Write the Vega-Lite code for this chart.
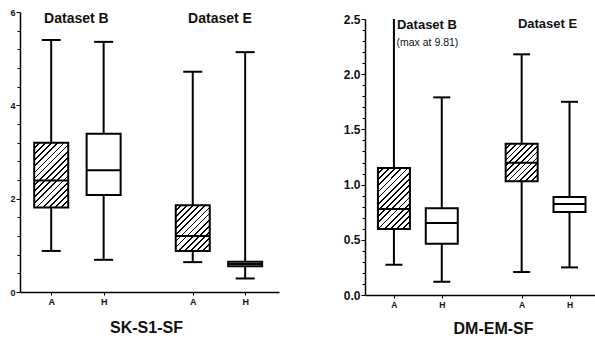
{
  "$schema": "https://vega.github.io/schema/vega-lite/v6.json",
  "padding": {"left": 9, "top": 8, "right": 0, "bottom": 0},
  "spacing": 64,
  "config": {
    "view": {"stroke": null},
    "font": "Liberation Sans",
    "tick": {"opacity": 1},
    "axis": {"grid": false, "domainColor": "black", "domainWidth": 1.5, "tickColor": "black", "tickWidth": 1, "labelFont": "Liberation Sans", "labelFontWeight": "bold", "labelColor": "#111", "titleFont": "Liberation Sans", "titleFontWeight": "bold", "titleColor": "#111", "labelPadding": 1, "labelOverlap": false, "tickCount": 100}
  },
  "datasets": {
    "left": [
      {"pos": 0.5, "grp": "A", "set": "B", "min": 0.88, "q1": 1.81, "med": 2.39, "q3": 3.2, "max": 5.4},
      {"pos": 1.5, "grp": "H", "set": "B", "min": 0.69, "q1": 2.08, "med": 2.61, "q3": 3.39, "max": 5.36},
      {"pos": 3.2, "grp": "A", "set": "E", "min": 0.64, "q1": 0.88, "med": 1.2, "q3": 1.86, "max": 4.72},
      {"pos": 4.2, "grp": "H", "set": "E", "min": 0.29, "q1": 0.55, "med": 0.6, "q3": 0.65, "max": 5.14}
    ],
    "right": [
      {"pos": 0.5, "grp": "A", "set": "B", "min": 0.274, "q1": 0.598, "med": 0.779, "q3": 1.15, "max": 9.81},
      {"pos": 1.5, "grp": "H", "set": "B", "min": 0.12, "q1": 0.465, "med": 0.652, "q3": 0.785, "max": 1.79},
      {"pos": 3.17, "grp": "A", "set": "E", "min": 0.208, "q1": 1.03, "med": 1.198, "q3": 1.37, "max": 2.18},
      {"pos": 4.17, "grp": "H", "set": "E", "min": 0.25, "q1": 0.752, "med": 0.824, "q3": 0.888, "max": 1.75}
    ],
    "leftText": [
      {"pos": 0.98, "y": 5.84, "label": "Dataset B"},
      {"pos": 3.72, "y": 5.84, "label": "Dataset E"}
    ],
    "rightText": [
      {"pos": 1.19, "y": 2.446, "label": "Dataset B"},
      {"pos": 3.71, "y": 2.455, "label": "Dataset E"}
    ],
    "rightNote": [
      {"pos": 1.2, "y": 2.287, "label": "(max at 9.81)"}
    ],
    "blank": [{"k": 1}]
  },
  "hconcat": [
    {
      "width": 259,
      "height": 280,
      "data": {"name": "left"},
      "encoding": {
        "x": {"field": "pos", "type": "quantitative", "scale": {"domain": [0, 4.75], "nice": false, "zero": false},
          "axis": {"values": [0.5, 1.5, 3.2, 4.2], "labelExpr": "datum.value < 1 || (datum.value > 3 && datum.value < 4) ? 'A' : 'H'", "labelFontSize": 9, "tickSize": 3, "labelPadding": 2, "title": "SK-S1-SF", "titleFontSize": 16, "titlePadding": 13, "titleX": 126, "titleAlign": "center"}}
      },
      "layer": [
        {"mark": {"type": "rule", "color": "black", "strokeWidth": 2},
          "encoding": {"y": {"field": "min", "type": "quantitative", "scale": {"domain": [0, 6], "nice": false},
            "axis": {"values": [0, 0.4, 0.8, 1.2, 1.6, 2, 2.4, 2.8, 3.2, 3.6, 4, 4.4, 4.8, 5.2, 5.6, 6], "format": ".0f", "labelExpr": "datum.value % 2 === 0 ? datum.label : ''", "labelFontSize": 9, "tickSize": {"condition": {"test": "datum.value % 2 === 0", "value": 4}, "value": 3}, "title": null}},
            "y2": {"field": "max"}}},
        {"mark": {"type": "tick", "orient": "horizontal", "color": "black", "opacity": 1, "size": 19, "thickness": 2},
          "encoding": {"y": {"field": "min", "type": "quantitative"}}},
        {"mark": {"type": "tick", "orient": "horizontal", "color": "black", "opacity": 1, "size": 19, "thickness": 2},
          "encoding": {"y": {"field": "max", "type": "quantitative"}}},
        {"transform": [{"filter": "datum.grp === 'H'"}],
          "mark": {"type": "bar", "orient": "vertical", "size": 34, "fill": "white", "stroke": "black", "strokeWidth": 2},
          "encoding": {"y": {"field": "q1", "type": "quantitative"}, "y2": {"field": "q3"}}},
        {"transform": [{"filter": "datum.grp === 'A' && datum.set === 'B'"}],
          "mark": {"type": "bar", "orient": "vertical", "size": 34, "stroke": "black", "strokeWidth": 2,
            "fill": {"gradient": "linear", "x1": 0, "y1": 0, "x2": 0.627, "y2": 1.196, "stops": [
              {"offset": 0, "color": "white"}, {"offset": 0.045, "color": "white"}, {"offset": 0.045, "color": "black"}, {"offset": 0.0625, "color": "black"},
              {"offset": 0.0625, "color": "white"}, {"offset": 0.1075, "color": "white"}, {"offset": 0.1075, "color": "black"}, {"offset": 0.125, "color": "black"},
              {"offset": 0.125, "color": "white"}, {"offset": 0.17, "color": "white"}, {"offset": 0.17, "color": "black"}, {"offset": 0.1875, "color": "black"},
              {"offset": 0.1875, "color": "white"}, {"offset": 0.2325, "color": "white"}, {"offset": 0.2325, "color": "black"}, {"offset": 0.25, "color": "black"},
              {"offset": 0.25, "color": "white"}, {"offset": 0.295, "color": "white"}, {"offset": 0.295, "color": "black"}, {"offset": 0.3125, "color": "black"},
              {"offset": 0.3125, "color": "white"}, {"offset": 0.3575, "color": "white"}, {"offset": 0.3575, "color": "black"}, {"offset": 0.375, "color": "black"},
              {"offset": 0.375, "color": "white"}, {"offset": 0.42, "color": "white"}, {"offset": 0.42, "color": "black"}, {"offset": 0.4375, "color": "black"},
              {"offset": 0.4375, "color": "white"}, {"offset": 0.4825, "color": "white"}, {"offset": 0.4825, "color": "black"}, {"offset": 0.5, "color": "black"},
              {"offset": 0.5, "color": "white"}, {"offset": 0.545, "color": "white"}, {"offset": 0.545, "color": "black"}, {"offset": 0.5625, "color": "black"},
              {"offset": 0.5625, "color": "white"}, {"offset": 0.6075, "color": "white"}, {"offset": 0.6075, "color": "black"}, {"offset": 0.625, "color": "black"},
              {"offset": 0.625, "color": "white"}, {"offset": 0.67, "color": "white"}, {"offset": 0.67, "color": "black"}, {"offset": 0.6875, "color": "black"},
              {"offset": 0.6875, "color": "white"}, {"offset": 0.7325, "color": "white"}, {"offset": 0.7325, "color": "black"}, {"offset": 0.75, "color": "black"},
              {"offset": 0.75, "color": "white"}, {"offset": 0.795, "color": "white"}, {"offset": 0.795, "color": "black"}, {"offset": 0.8125, "color": "black"},
              {"offset": 0.8125, "color": "white"}, {"offset": 0.8575, "color": "white"}, {"offset": 0.8575, "color": "black"}, {"offset": 0.875, "color": "black"},
              {"offset": 0.875, "color": "white"}, {"offset": 0.92, "color": "white"}, {"offset": 0.92, "color": "black"}, {"offset": 0.9375, "color": "black"},
              {"offset": 0.9375, "color": "white"}, {"offset": 0.9825, "color": "white"}, {"offset": 0.9825, "color": "black"}, {"offset": 1, "color": "black"}
            ]}},
          "encoding": {"y": {"field": "q1", "type": "quantitative"}, "y2": {"field": "q3"}}},
        {"transform": [{"filter": "datum.grp === 'A' && datum.set === 'E'"}],
          "mark": {"type": "bar", "orient": "vertical", "size": 34, "stroke": "black", "strokeWidth": 2,
            "fill": {"gradient": "linear", "x1": 0, "y1": 0, "x2": 0.836, "y2": 1.123, "stops": [
              {"offset": 0, "color": "white"}, {"offset": 0.0554, "color": "white"}, {"offset": 0.0554, "color": "black"}, {"offset": 0.0769, "color": "black"},
              {"offset": 0.0769, "color": "white"}, {"offset": 0.1323, "color": "white"}, {"offset": 0.1323, "color": "black"}, {"offset": 0.1538, "color": "black"},
              {"offset": 0.1538, "color": "white"}, {"offset": 0.2092, "color": "white"}, {"offset": 0.2092, "color": "black"}, {"offset": 0.2308, "color": "black"},
              {"offset": 0.2308, "color": "white"}, {"offset": 0.2862, "color": "white"}, {"offset": 0.2862, "color": "black"}, {"offset": 0.3077, "color": "black"},
              {"offset": 0.3077, "color": "white"}, {"offset": 0.3631, "color": "white"}, {"offset": 0.3631, "color": "black"}, {"offset": 0.3846, "color": "black"},
              {"offset": 0.3846, "color": "white"}, {"offset": 0.44, "color": "white"}, {"offset": 0.44, "color": "black"}, {"offset": 0.4615, "color": "black"},
              {"offset": 0.4615, "color": "white"}, {"offset": 0.5169, "color": "white"}, {"offset": 0.5169, "color": "black"}, {"offset": 0.5385, "color": "black"},
              {"offset": 0.5385, "color": "white"}, {"offset": 0.5939, "color": "white"}, {"offset": 0.5939, "color": "black"}, {"offset": 0.6154, "color": "black"},
              {"offset": 0.6154, "color": "white"}, {"offset": 0.6708, "color": "white"}, {"offset": 0.6708, "color": "black"}, {"offset": 0.6923, "color": "black"},
              {"offset": 0.6923, "color": "white"}, {"offset": 0.7477, "color": "white"}, {"offset": 0.7477, "color": "black"}, {"offset": 0.7692, "color": "black"},
              {"offset": 0.7692, "color": "white"}, {"offset": 0.8246, "color": "white"}, {"offset": 0.8246, "color": "black"}, {"offset": 0.8462, "color": "black"},
              {"offset": 0.8462, "color": "white"}, {"offset": 0.9016, "color": "white"}, {"offset": 0.9016, "color": "black"}, {"offset": 0.9231, "color": "black"},
              {"offset": 0.9231, "color": "white"}, {"offset": 0.9785, "color": "white"}, {"offset": 0.9785, "color": "black"}, {"offset": 1, "color": "black"}
            ]}},
          "encoding": {"y": {"field": "q1", "type": "quantitative"}, "y2": {"field": "q3"}}},
        {"mark": {"type": "tick", "orient": "horizontal", "color": "black", "opacity": 1, "size": 34, "thickness": 2},
          "encoding": {"y": {"field": "med", "type": "quantitative"}}},
        {"data": {"name": "leftText"},
          "mark": {"type": "text", "font": "Liberation Sans", "fontWeight": "bold", "fontSize": 14, "color": "#111", "baseline": "middle", "align": "center"},
          "encoding": {"y": {"field": "y", "type": "quantitative"}, "text": {"field": "label"}}}
      ]
    },
    {
      "spacing": 0,
      "vconcat": [
        {
          "width": 232,
          "height": 1,
          "data": {"name": "blank"},
          "mark": {"type": "point", "opacity": 0, "size": 0}
        },
        {
          "width": 232,
          "height": 276,
          "data": {"name": "right"},
          "encoding": {
            "x": {"field": "pos", "type": "quantitative", "scale": {"domain": [0, 4.64], "nice": false, "zero": false},
              "axis": {"values": [0.5, 1.5, 3.17, 4.17], "labelExpr": "datum.value < 1 || (datum.value > 3 && datum.value < 4) ? 'A' : 'H'", "labelFontSize": 8.5, "tickSize": 3, "labelPadding": 2, "title": "DM-EM-SF", "titleFontSize": 16, "titlePadding": 12, "titleX": 128, "titleAlign": "center"}}
          },
          "layer": [
            {"mark": {"type": "rule", "color": "black", "strokeWidth": 2, "clip": true},
              "encoding": {"y": {"field": "min", "type": "quantitative", "scale": {"domain": [0, 2.5], "nice": false},
                "axis": {"values": [0, 0.1, 0.2, 0.3, 0.4, 0.5, 0.6, 0.7, 0.8, 0.9, 1, 1.1, 1.2, 1.3, 1.4, 1.5, 1.6, 1.7, 1.8, 1.9, 2, 2.1, 2.2, 2.3, 2.4, 2.5], "format": ".1f", "labelExpr": "datum.value % 0.5 === 0 ? datum.label : ''", "labelFontSize": 12, "tickSize": {"condition": {"test": "datum.value % 0.5 === 0", "value": 4}, "value": 3}, "title": null}},
                "y2": {"field": "max"}}},
            {"mark": {"type": "tick", "orient": "horizontal", "color": "black", "opacity": 1, "size": 17, "thickness": 2},
              "encoding": {"y": {"field": "min", "type": "quantitative"}}},
            {"mark": {"type": "tick", "orient": "horizontal", "color": "black", "opacity": 1, "size": 17, "thickness": 2, "clip": true},
              "encoding": {"y": {"field": "max", "type": "quantitative"}}},
            {"transform": [{"filter": "datum.grp === 'H'"}],
              "mark": {"type": "bar", "orient": "vertical", "size": 32, "fill": "white", "stroke": "black", "strokeWidth": 2},
              "encoding": {"y": {"field": "q1", "type": "quantitative"}, "y2": {"field": "q3"}}},
            {"transform": [{"filter": "datum.grp === 'A' && datum.set === 'B'"}],
              "mark": {"type": "bar", "orient": "vertical", "size": 32, "stroke": "black", "strokeWidth": 2,
                "fill": {"gradient": "linear", "x1": 0, "y1": 0, "x2": 0.628, "y2": 1.195, "stops": [
                  {"offset": 0, "color": "white"}, {"offset": 0.048, "color": "white"}, {"offset": 0.048, "color": "black"}, {"offset": 0.0667, "color": "black"},
                  {"offset": 0.0667, "color": "white"}, {"offset": 0.1147, "color": "white"}, {"offset": 0.1147, "color": "black"}, {"offset": 0.1333, "color": "black"},
                  {"offset": 0.1333, "color": "white"}, {"offset": 0.1813, "color": "white"}, {"offset": 0.1813, "color": "black"}, {"offset": 0.2, "color": "black"},
                  {"offset": 0.2, "color": "white"}, {"offset": 0.248, "color": "white"}, {"offset": 0.248, "color": "black"}, {"offset": 0.2667, "color": "black"},
                  {"offset": 0.2667, "color": "white"}, {"offset": 0.3147, "color": "white"}, {"offset": 0.3147, "color": "black"}, {"offset": 0.3333, "color": "black"},
                  {"offset": 0.3333, "color": "white"}, {"offset": 0.3813, "color": "white"}, {"offset": 0.3813, "color": "black"}, {"offset": 0.4, "color": "black"},
                  {"offset": 0.4, "color": "white"}, {"offset": 0.448, "color": "white"}, {"offset": 0.448, "color": "black"}, {"offset": 0.4667, "color": "black"},
                  {"offset": 0.4667, "color": "white"}, {"offset": 0.5147, "color": "white"}, {"offset": 0.5147, "color": "black"}, {"offset": 0.5333, "color": "black"},
                  {"offset": 0.5333, "color": "white"}, {"offset": 0.5813, "color": "white"}, {"offset": 0.5813, "color": "black"}, {"offset": 0.6, "color": "black"},
                  {"offset": 0.6, "color": "white"}, {"offset": 0.648, "color": "white"}, {"offset": 0.648, "color": "black"}, {"offset": 0.6667, "color": "black"},
                  {"offset": 0.6667, "color": "white"}, {"offset": 0.7147, "color": "white"}, {"offset": 0.7147, "color": "black"}, {"offset": 0.7333, "color": "black"},
                  {"offset": 0.7333, "color": "white"}, {"offset": 0.7813, "color": "white"}, {"offset": 0.7813, "color": "black"}, {"offset": 0.8, "color": "black"},
                  {"offset": 0.8, "color": "white"}, {"offset": 0.848, "color": "white"}, {"offset": 0.848, "color": "black"}, {"offset": 0.8667, "color": "black"},
                  {"offset": 0.8667, "color": "white"}, {"offset": 0.9147, "color": "white"}, {"offset": 0.9147, "color": "black"}, {"offset": 0.9333, "color": "black"},
                  {"offset": 0.9333, "color": "white"}, {"offset": 0.9813, "color": "white"}, {"offset": 0.9813, "color": "black"}, {"offset": 1, "color": "black"}
                ]}},
              "encoding": {"y": {"field": "q1", "type": "quantitative"}, "y2": {"field": "q3"}}},
            {"transform": [{"filter": "datum.grp === 'A' && datum.set === 'E'"}],
              "mark": {"type": "bar", "orient": "vertical", "size": 32, "stroke": "black", "strokeWidth": 2,
                "fill": {"gradient": "linear", "x1": 0, "y1": 0, "x2": 0.915, "y2": 1.0725, "stops": [
                  {"offset": 0, "color": "white"}, {"offset": 0.06, "color": "white"}, {"offset": 0.06, "color": "black"}, {"offset": 0.0833, "color": "black"},
                  {"offset": 0.0833, "color": "white"}, {"offset": 0.1433, "color": "white"}, {"offset": 0.1433, "color": "black"}, {"offset": 0.1667, "color": "black"},
                  {"offset": 0.1667, "color": "white"}, {"offset": 0.2267, "color": "white"}, {"offset": 0.2267, "color": "black"}, {"offset": 0.25, "color": "black"},
                  {"offset": 0.25, "color": "white"}, {"offset": 0.31, "color": "white"}, {"offset": 0.31, "color": "black"}, {"offset": 0.3333, "color": "black"},
                  {"offset": 0.3333, "color": "white"}, {"offset": 0.3933, "color": "white"}, {"offset": 0.3933, "color": "black"}, {"offset": 0.4167, "color": "black"},
                  {"offset": 0.4167, "color": "white"}, {"offset": 0.4767, "color": "white"}, {"offset": 0.4767, "color": "black"}, {"offset": 0.5, "color": "black"},
                  {"offset": 0.5, "color": "white"}, {"offset": 0.56, "color": "white"}, {"offset": 0.56, "color": "black"}, {"offset": 0.5833, "color": "black"},
                  {"offset": 0.5833, "color": "white"}, {"offset": 0.6433, "color": "white"}, {"offset": 0.6433, "color": "black"}, {"offset": 0.6667, "color": "black"},
                  {"offset": 0.6667, "color": "white"}, {"offset": 0.7267, "color": "white"}, {"offset": 0.7267, "color": "black"}, {"offset": 0.75, "color": "black"},
                  {"offset": 0.75, "color": "white"}, {"offset": 0.81, "color": "white"}, {"offset": 0.81, "color": "black"}, {"offset": 0.8333, "color": "black"},
                  {"offset": 0.8333, "color": "white"}, {"offset": 0.8933, "color": "white"}, {"offset": 0.8933, "color": "black"}, {"offset": 0.9167, "color": "black"},
                  {"offset": 0.9167, "color": "white"}, {"offset": 0.9767, "color": "white"}, {"offset": 0.9767, "color": "black"}, {"offset": 1, "color": "black"}
                ]}},
              "encoding": {"y": {"field": "q1", "type": "quantitative"}, "y2": {"field": "q3"}}},
            {"mark": {"type": "tick", "orient": "horizontal", "color": "black", "opacity": 1, "size": 32, "thickness": 2},
              "encoding": {"y": {"field": "med", "type": "quantitative"}}},
            {"data": {"name": "rightText"},
              "mark": {"type": "text", "font": "Liberation Sans", "fontWeight": "bold", "fontSize": 13, "color": "#111", "baseline": "middle", "align": "center"},
              "encoding": {"y": {"field": "y", "type": "quantitative"}, "text": {"field": "label"}}},
            {"data": {"name": "rightNote"},
              "mark": {"type": "text", "font": "Liberation Sans", "fontWeight": "normal", "fontSize": 10.5, "color": "#111", "baseline": "middle", "align": "center"},
              "encoding": {"y": {"field": "y", "type": "quantitative"}, "text": {"field": "label"}}}
          ]
        }
      ]
    }
  ]
}
